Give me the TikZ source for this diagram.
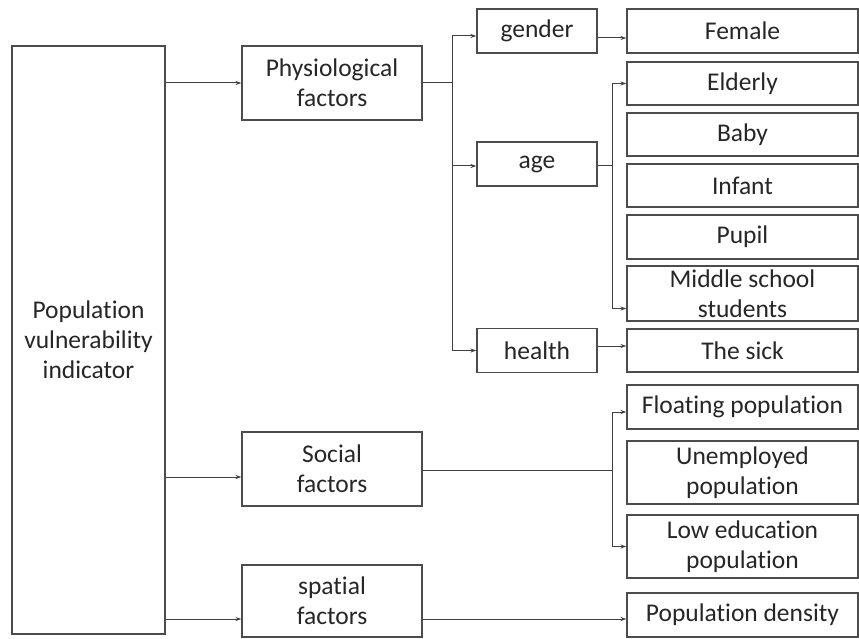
\documentclass[tikz,border=0pt]{standalone}
\usepackage{fontspec}
\setmainfont{Carlito}[Ligatures=NoCommon]
\usetikzlibrary{arrows.meta}
\tikzset{
  box/.style={draw=black!70,line width=1.1pt,align=center,inner sep=0pt,
    font=\fontsize{25.5}{30}\selectfont,text=black!85},
  link/.style={draw=black!75,line width=1pt,-{Stealth[length=6pt,width=4pt]}},
}
\begin{document}
\begin{tikzpicture}[x=1pt,y=-1pt]
\useasboundingbox (0,0) rectangle (859,639);
% first level
\node[box,minimum width=153,minimum height=588] (main) at (88.5,340) {Population\\vulnerability\\indicator};
\node[box,minimum width=180,minimum height=74] (phys) at (332,83) {Physiological\\factors};
\node[box,minimum width=180,minimum height=74] (social) at (332,469) {Social\\factors};
\node[box,minimum width=180,minimum height=72] (spatial) at (332,601) {spatial\\factors};
% second level
\node[box,minimum width=120,minimum height=44] (gender) at (537,31) {gender};
\node[box,minimum width=120,minimum height=44] (age) at (537,164) {age};
\node[box,minimum width=120,minimum height=44] (health) at (537,350.5) {health};
% right column
\node[box,minimum width=231,minimum height=44] (female) at (742.5,31) {Female};
\node[box,minimum width=231,minimum height=43] (elderly) at (742.5,83.5) {Elderly};
\node[box,minimum width=231,minimum height=43] (baby) at (742.5,134.5) {Baby};
\node[box,minimum width=231,minimum height=43] (infant) at (742.5,185.5) {Infant};
\node[box,minimum width=231,minimum height=44] (pupil) at (742.5,237) {Pupil};
\node[box,minimum width=231,minimum height=55] (middle) at (742.5,293.5) {Middle school\\students};
\node[box,minimum width=231,minimum height=43] (sick) at (742.5,350.5) {The sick};
\node[box,minimum width=231,minimum height=44] (floating) at (742.5,407) {Floating population};
\node[box,minimum width=231,minimum height=63] (unemployed) at (742.5,472.5) {Unemployed\\population};
\node[box,minimum width=231,minimum height=63] (lowedu) at (742.5,546.5) {Low education\\population};
\node[box,minimum width=231,minimum height=44] (density) at (742.5,615) {Population density};
% connectors
\draw[link] (main.east |- phys) -- (phys);
\draw[link] (main.east |- 0,477) -- (social.west |- 0,477);
\draw[link] (main.east |- 0,619) -- (spatial.west |- 0,619);
\coordinate (pj) at (452,83);
\draw[draw=black!75,line width=1pt] (phys.east) -- (pj);
\draw[link] (pj) |- ([yshift=-5]gender.west);
\draw[link] (pj) |- ([yshift=-2]age.west);
\draw[link] (pj) |- (health.west);
\draw[link] ([yshift=-7]gender.east) -- ([yshift=-7]female.west);
\coordinate (aj) at (612,166);
\draw[draw=black!75,line width=1pt] ([yshift=-2]age.east) -- (aj);
\draw[link] (aj) |- (elderly.west);
\draw[link] (aj) |- ([yshift=-15]middle.west);
\draw[link] (health.east |- 0,346) -- (sick.west |- 0,346);
\coordinate (sj) at (612,470);
\draw[draw=black!75,line width=1pt] (social.east |- sj) -- (sj);
\draw[link] (sj) |- ([yshift=-5]floating.west);
\draw[link] (sj) |- (lowedu.west);
\draw[link] (spatial.east |- 0,619) -- (density.west |- 0,619);
\end{tikzpicture}
\end{document}
